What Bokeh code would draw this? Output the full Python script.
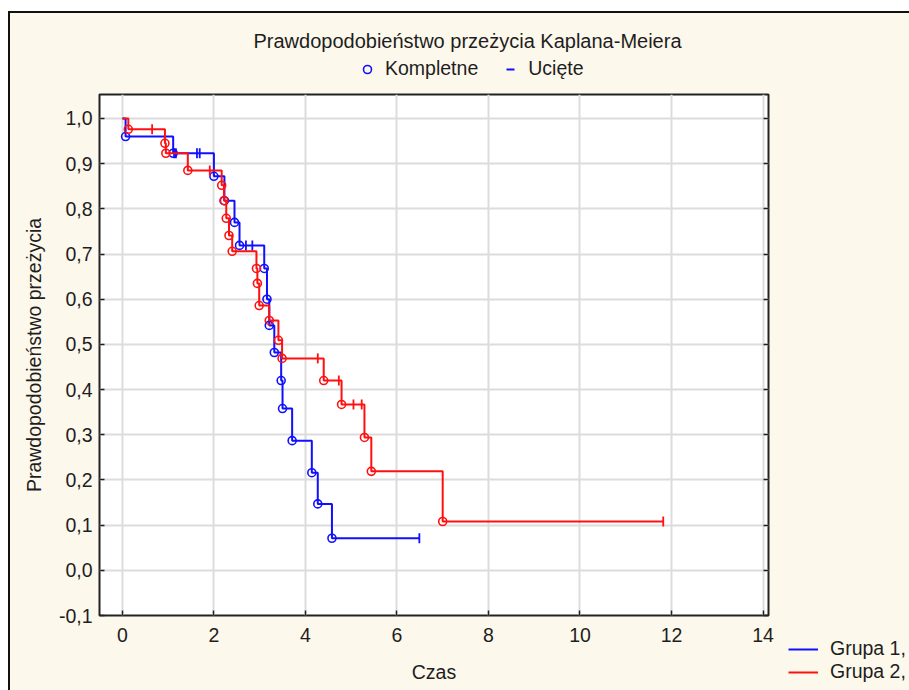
import numpy as np
from bokeh.plotting import figure
from bokeh.layouts import column, row
from bokeh.models import (Legend, LegendItem, LinearAxis, FixedTicker,
                          CustomJSTickFormatter, Range1d)
from bokeh.embed import file_html
from bokeh.resources import INLINE

# ---------------- data ----------------
# Grupa 1 (blue): event times / survival after event, censored times / survival
g1_event_t = [0.07, 1.11, 2.00, 2.23, 2.45, 2.56, 3.10, 3.16, 3.21, 3.32, 3.47, 3.50, 3.71, 4.14, 4.27, 4.58]
g1_event_s = [0.960, 0.923, 0.872, 0.818, 0.770, 0.719, 0.668, 0.600, 0.542, 0.482, 0.420, 0.358, 0.287, 0.216, 0.147, 0.071]
g1_cens_t = [1.13, 1.17, 1.63, 1.69, 2.70, 2.84, 6.49]
g1_cens_s = [0.923, 0.923, 0.923, 0.923, 0.719, 0.719, 0.071]

# Grupa 2 (red)
g2_event_t = [0.13, 0.93, 0.95, 1.43, 2.17, 2.22, 2.27, 2.33, 2.40, 2.93, 2.95, 2.99, 3.21, 3.41, 3.49, 4.40, 4.79, 5.29, 5.44, 7.00]
g2_event_s = [0.976, 0.945, 0.923, 0.885, 0.852, 0.818, 0.779, 0.741, 0.706, 0.668, 0.635, 0.586, 0.553, 0.509, 0.469, 0.420, 0.367, 0.294, 0.219, 0.108]
g2_cens_t = [0.65, 1.91, 4.27, 4.73, 5.05, 5.23, 11.82]
g2_cens_s = [0.976, 0.885, 0.469, 0.420, 0.367, 0.367, 0.108]

x_ticks = [0, 2, 4, 6, 8, 10, 12, 14]
y_ticks = [-0.1, 0.0, 0.1, 0.2, 0.3, 0.4, 0.5, 0.6, 0.7, 0.8, 0.9, 1.0]

title_text = "Prawdopodobieństwo przeżycia Kaplana-Meiera"
x_label = "Czas"
y_label = "Prawdopodobieństwo przeżycia"
group_labels = ["Grupa 1,", "Grupa 2,"]
marker_labels = ["Kompletne", "Ucięte"]

# ---------------- styling ----------------
FONT = "Liberation Sans"
FS = "19.5px"
TXT = "#1e1e1e"
BLUE = "#1010ff"
RED = "#ff1010"
CREAM = "#fdf8ec"


def blank_fig(w, h, **kw):
    # legend-only panel; its ranges lie away from the data so the
    # legend's source renderers are not visible inside it
    f = figure(width=w, height=h, x_range=Range1d(100, 101), y_range=Range1d(100, 101),
               output_backend="svg", toolbar_location=None,
               x_axis_location=None, y_axis_location=None,
               background_fill_color=CREAM, border_fill_color=CREAM,
               outline_line_color=None, **kw)
    f.grid.visible = False
    return f


# ---------------- top strip: title + marker legend ----------------
strip = blank_fig(766, 79, min_border_left=89, min_border_right=8,
                  min_border_top=43, min_border_bottom=0)
strip.title.text = title_text
strip.title.align = "left"
strip.title.offset = 154
strip.title.text_font = FONT
strip.title.text_font_size = "20px"
strip.title.text_font_style = "normal"
strip.title.text_color = TXT

d_circ = strip.scatter(g1_event_t, g1_event_s, marker="circle", size=8,
                       line_color=BLUE, line_width=1.6, fill_alpha=0.0)
d_dash = strip.scatter(g1_cens_t, g1_cens_s, marker="dash", size=8,
                       line_color=BLUE, line_width=2)
top_leg = Legend(items=[LegendItem(label=marker_labels[0], renderers=[d_circ]),
                        LegendItem(label=marker_labels[1], renderers=[d_dash])],
                 orientation="horizontal", location=(256, 10),
                 glyph_width=20, glyph_height=20, label_standoff=8, spacing=22,
                 padding=2, margin=0,
                 background_fill_alpha=0, border_line_alpha=0,
                 label_text_font=FONT, label_text_font_size=FS,
                 label_text_color=TXT)
strip.add_layout(top_leg)

# ---------------- main plot ----------------
p = figure(width=766, height=598,
           x_range=Range1d(-0.5, 14.12), y_range=Range1d(-0.1, 1.053),
           output_backend="svg", toolbar_location=None,
           min_border_left=89, min_border_right=8,
           min_border_top=2, min_border_bottom=75,
           background_fill_color="white", border_fill_color=CREAM,
           outline_line_color="#222222", outline_line_width=2)

fmt = CustomJSTickFormatter(code="return tick.toFixed(1).replace('.', ',');")

p.xaxis.ticker = FixedTicker(ticks=x_ticks)
p.yaxis.ticker = FixedTicker(ticks=y_ticks)
p.yaxis.formatter = fmt
for ax in (p.xaxis[0], p.yaxis[0]):
    ax.axis_line_color = None
    ax.major_tick_in = 5
    ax.major_tick_out = 0
    ax.major_tick_line_color = "#222222"
    ax.major_tick_line_width = 1.5
    ax.minor_tick_line_color = None
    ax.major_label_text_font = FONT
    ax.major_label_text_font_size = FS
    ax.major_label_text_color = TXT
    ax.axis_label_text_font = FONT
    ax.axis_label_text_font_size = FS
    ax.axis_label_text_font_style = "normal"
    ax.axis_label_text_color = TXT
p.xaxis.axis_label = x_label
p.yaxis.axis_label = y_label
p.xaxis.major_label_standoff = 12
p.xaxis.axis_label_standoff = 16
p.yaxis.major_label_standoff = 7
p.yaxis.axis_label_standoff = 11

right_ax = LinearAxis(ticker=FixedTicker(ticks=y_ticks), axis_line_color=None,
                      major_tick_in=5, major_tick_out=0, minor_tick_line_color=None,
                      major_tick_line_color="#222222", major_tick_line_width=1.5,
                      major_label_standoff=0,
                      formatter=CustomJSTickFormatter(code="return '';"))
p.add_layout(right_ax, "right")

p.xgrid.ticker = FixedTicker(ticks=x_ticks)
p.ygrid.ticker = FixedTicker(ticks=y_ticks)
p.grid.grid_line_color = "#dcdcdc"
p.grid.grid_line_width = 2


def draw_group(ev_t, ev_s, c_t, c_s, color):
    xs = [0.0] + list(ev_t) + [max(c_t[-1], ev_t[-1])]
    ys = [1.0] + list(ev_s) + [ev_s[-1]]
    p.step(xs, ys, mode="after", line_color=color, line_width=2)
    p.scatter(ev_t, ev_s, marker="circle", size=8, line_color=color,
              line_width=1.6, fill_color="white", fill_alpha=0.0)
    p.scatter(c_t, c_s, marker="dash", angle=np.pi / 2, size=10,
              line_color=color, line_width=1.8)
    return xs, ys


xs1, ys1 = draw_group(g1_event_t, g1_event_s, g1_cens_t, g1_cens_s, BLUE)
xs2, ys2 = draw_group(g2_event_t, g2_event_s, g2_cens_t, g2_cens_s, RED)

# ---------------- group legend (bottom right) ----------------
lf = blank_fig(133, 677, min_border_left=0, min_border_right=0,
               min_border_top=0, min_border_bottom=0)
r1 = lf.line(xs1, ys1, line_color=BLUE, line_width=2)
r2 = lf.line(xs2, ys2, line_color=RED, line_width=2)
grp_leg = Legend(items=[LegendItem(label=group_labels[0], renderers=[r1]),
                        LegendItem(label=group_labels[1], renderers=[r2])],
                 location=(9, 4), glyph_width=30, glyph_height=20,
                 label_standoff=12, spacing=0, padding=3, margin=0,
                 background_fill_alpha=0, border_line_alpha=0,
                 label_text_font=FONT, label_text_font_size=FS,
                 label_text_color=TXT)
lf.add_layout(grp_leg)

layout = row(column(strip, p, spacing=0), lf, spacing=0,
             styles={"margin-left": "10px", "margin-top": "13px",
                     "outline": "2px solid #111111",
                     "background-color": CREAM})

open("out.html", "w").write(file_html(layout, INLINE))
